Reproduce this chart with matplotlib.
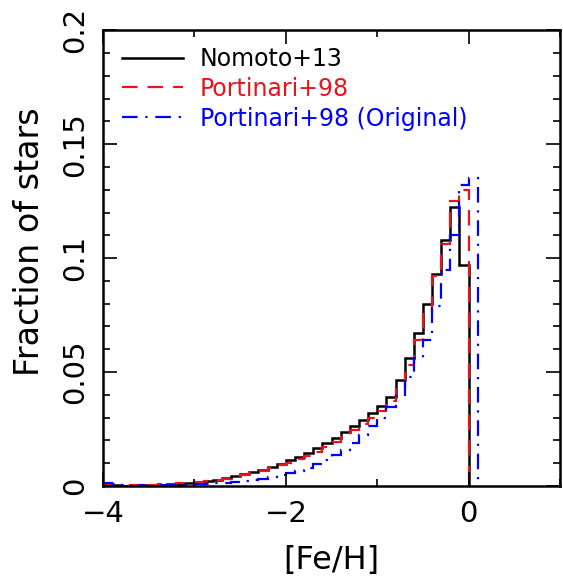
import numpy as np
import matplotlib
matplotlib.use("Agg")
import matplotlib.pyplot as plt
from matplotlib.ticker import MultipleLocator

# bin edges in [Fe/H], width 0.1
edges = np.round(np.arange(-4.0, 0.01, 0.1), 2)
edges_orig = np.round(np.arange(-4.0, 0.11, 0.1), 2)

# Nomoto+13
nomoto = [0.0005, 0.0003, 0.0002, 0.0003, 0.0004, 0.0005, 0.0006, 0.0008, 0.0010, 0.0012,
          0.0017, 0.0022, 0.0028, 0.0035, 0.0043, 0.0052, 0.0062, 0.0072, 0.0085, 0.0098,
          0.0112, 0.0128, 0.0145, 0.0165, 0.0188, 0.0210, 0.0235, 0.0262, 0.0290, 0.0320,
          0.0350, 0.0390, 0.0465, 0.0560, 0.0670, 0.0800, 0.0930, 0.1080, 0.1226, 0.0970]
# Portinari+98
portinari = [0.0010, 0.0005, 0.0002, 0.0003, 0.0002, 0.0003, 0.0008, 0.0005, 0.0015, 0.0012,
             0.0018, 0.0020, 0.0025, 0.0032, 0.0040, 0.0048, 0.0058, 0.0068, 0.0078, 0.0090,
             0.0102, 0.0117, 0.0132, 0.0150, 0.0172, 0.0195, 0.0220, 0.0245, 0.0272, 0.0300,
             0.0330, 0.0375, 0.0435, 0.0530, 0.0640, 0.0770, 0.0920, 0.1060, 0.1250, 0.1300]
# Portinari+98 (Original), one extra bin up to +0.1
portinari_orig = [0.0015, 0.0008, 0.0003, 0.0002, 0.0003, 0.0002, 0.0004, 0.0004, 0.0006, 0.0006,
                  0.0008, 0.0009, 0.0011, 0.0013, 0.0016, 0.0020, 0.0025, 0.0031, 0.0038, 0.0047,
                  0.0057, 0.0068, 0.0080, 0.0095, 0.0115, 0.0135, 0.0160, 0.0190, 0.0225, 0.0262,
                  0.0300, 0.0345, 0.0400, 0.0480, 0.0560, 0.0640, 0.0790, 0.0950, 0.1100, 0.1320,
                  0.1350]

fig = plt.figure(figsize=(5.63, 5.81), dpi=100)
ax = fig.add_axes([0.183, 0.1635, 0.8117, 0.7845])

ax.stairs(nomoto, edges, baseline=0, color="black", lw=1.8, label="Nomoto+13")
ax.stairs(portinari, edges, baseline=0, color="#e8141c", lw=1.6,
          linestyle=(0, (7, 4.5)), label="Portinari+98")
ax.stairs(portinari_orig, edges_orig, baseline=0, color="#0000ff", lw=1.6,
          linestyle=(0, (7, 3.5, 1, 3.5)), label="Portinari+98 (Original)")

ax.set_xlim(-4, 1)
ax.set_ylim(0, 0.2)
ax.xaxis.set_minor_locator(MultipleLocator(1))
ax.yaxis.set_minor_locator(MultipleLocator(0.01))
ax.set_yticks([0, 0.05, 0.1, 0.15, 0.2])
ax.set_yticklabels(["0", "0.05", "0.1", "0.15", "0.2"], rotation=90, va="center")
ax.set_xticks([-4, -2, 0])
ax.set_xticklabels(["\u22124", "\u22122", "0"])
ax.tick_params(which="both", direction="in", top=True, right=True, width=1.2,
               labelsize=21)
ax.tick_params(which="major", length=10, pad=10)
ax.tick_params(which="minor", length=5)
for s in ax.spines.values():
    s.set_linewidth(1.8)

ax.set_xlabel("[Fe/H]", fontsize=23, labelpad=12)
ax.set_ylabel("Fraction of stars", fontsize=24)
ax.yaxis.set_label_coords(-0.125, 0.535)

ax.legend(loc="upper left", frameon=False, fontsize=17, handlelength=2.6,
          handletextpad=0.7, labelspacing=0.25, borderaxespad=0.4,
          labelcolor="linecolor", bbox_to_anchor=(0.0, 1.005))

fig.savefig("out.png", dpi=100)
